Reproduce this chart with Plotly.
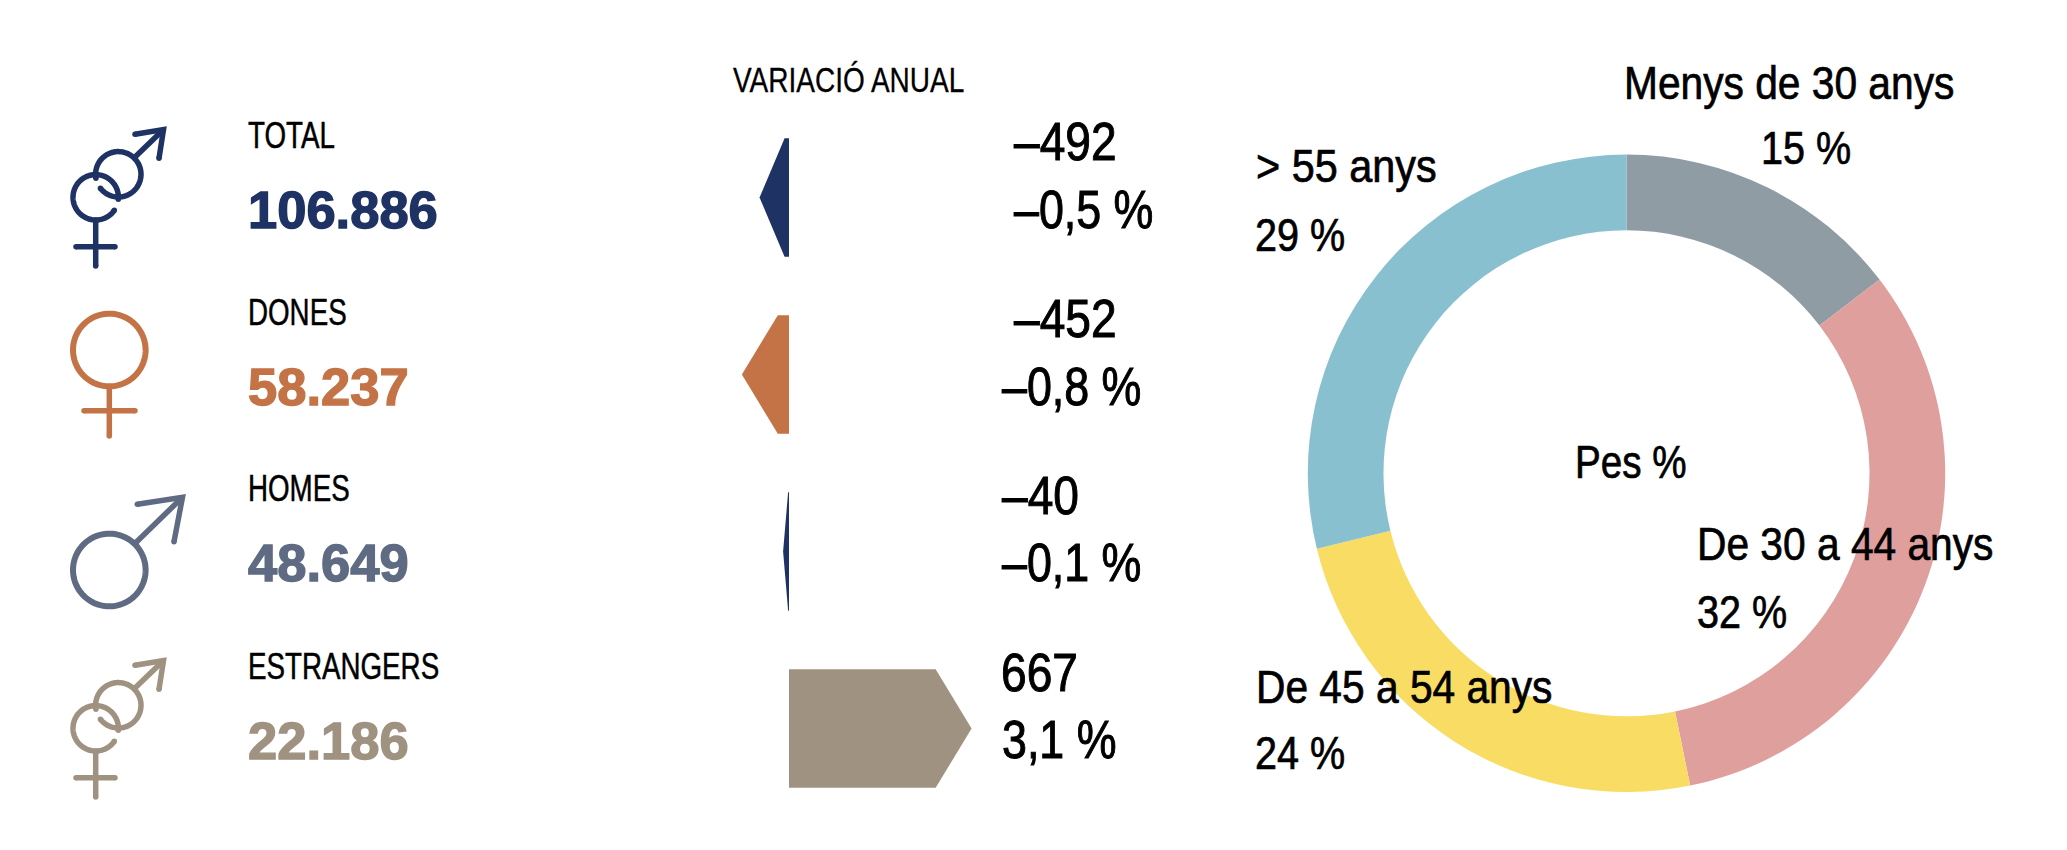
import json

import numpy as np
import plotly.graph_objects as go

WIDTH = 2067
HEIGHT = 850
TEXT_FONT = 'Liberation Sans'

groups = ['TOTAL', 'DONES', 'HOMES', 'ESTRANGERS']
totals = ['106.886', '58.237', '48.649', '22.186']
group_colors = ['#1f3264', '#c47346', '#5f6b82', '#a09280']
arrow_colors = ['#1f3264', '#c47346', '#1f3264', '#a09280']

change_abs = ['–492', '–452', '–40', '667']
change_pct_text = ['–0,5 %', '–0,8 %', '–0,1 %', '3,1 %']
change_pct = [-0.5, -0.8, -0.1, 3.1]

age_groups = ['Menys de 30 anys', 'De 30 a 44 anys', 'De 45 a 54 anys', '> 55 anys']
age_share = [14.6, 32.2, 24.4, 28.8]
age_share_text = ['15 %', '32 %', '24 %', '29 %']
age_colors = ['#8f9ca4', '#df9f9d', '#f8dc63', '#89c0d0']

fig = go.Figure()


def stroke(xs, ys, color, width=5.5, caps=True):
    # plotly has no linecap, so the round ends are separate dots
    fig.add_trace(go.Scatter(
        x=xs, y=ys, mode='lines', line=dict(color=color, width=width, simplify=False),
        hoverinfo='skip', showlegend=False
    ))
    if caps:
        fig.add_trace(go.Scatter(
            x=[xs[0], xs[-1]], y=[ys[0], ys[-1]], mode='markers',
            marker=dict(color=color, size=width, line=dict(width=0)),
            hoverinfo='skip', showlegend=False
        ))


def arc(cx, cy, r, start, end):
    t = np.radians(np.linspace(start, end, 120))
    return (cx + r * np.cos(t)).tolist(), (cy + r * np.sin(t)).tolist()


def male_arrow(x0, y0, x1, y1, bx0, by0, bx1, by1, color):
    stroke([x0, x1], [y0, y1], color)
    stroke([bx0, x1 + 0.5, bx1], [by0, y1 - 0.5, by1], color)


def female_stem(x, y0, y1, cx0, cx1, cy, color):
    stroke([x, x], [y0, y1], color)
    stroke([cx0, cx1], [cy, cy], color)


def both_icon(dy, color):
    xs, ys = arc(95.7, 197.3 + dy, 22.7, 35, 365)
    stroke(xs, ys, color)
    xs, ys = arc(118.3, 174.3 + dy, 22.7, 142, -190)
    stroke(xs, ys, color)
    male_arrow(135, 157 + dy, 163, 130 + dy, 135, 134.3 + dy, 159, 158.3 + dy, color)
    female_stem(95.7, 220 + dy, 266 + dy, 76, 115, 246.7 + dy, color)


both_icon(0, group_colors[0])
both_icon(531, group_colors[3])

xs, ys = arc(109.3, 350, 36.3, 0, 360)
stroke(xs, ys, group_colors[1], 6, caps=False)
female_stem(109.3, 388, 436, 84, 135, 410.7, group_colors[1])

xs, ys = arc(109.3, 570, 36.3, 0, 360)
stroke(xs, ys, group_colors[2], 6, caps=False)
male_arrow(136.7, 541.7, 182, 497.7, 137.3, 504.3, 174, 541.7, group_colors[2])

# variation arrows: value on x2, row on y2
HEAD = 0.61
HALF = 0.335
for row, value in enumerate(change_pct):
    sign = 1 if value > 0 else -1
    head = min(HEAD, 0.85 * abs(value))
    neck = value - sign * head
    fig.add_trace(go.Scatter(
        x=[0, neck, value, neck, 0, 0],
        y=[row - HALF, row - HALF, row, row + HALF, row + HALF, row - HALF],
        xaxis='x2', yaxis='y2', mode='lines', fill='toself',
        fillcolor=arrow_colors[row], line=dict(width=0),
        hoverinfo='skip', showlegend=False
    ))

fig.add_trace(go.Pie(
    labels=age_groups, values=age_share, sort=False, direction='clockwise',
    rotation=0, hole=0.7625, textinfo='none', hoverinfo='skip', showlegend=False,
    marker=dict(colors=age_colors, line=dict(width=0)),
    domain=dict(x=[(1626.5 - 318.7) / WIDTH, (1626.5 + 318.7) / WIDTH],
                y=[1 - (473.3 + 318.7) / HEIGHT, 1 - (473.3 - 318.7) / HEIGHT])
))

squeeze = []
weight = []


def label(x, y, text, size, color='black', bold=False, k=1.0, heavy=0.7):
    squeeze.append(k)
    weight.append(heavy)
    fig.add_annotation(
        x=x, y=y, xref='x', yref='y', text=f'<b>{text}</b>' if bold else text,
        showarrow=False, xanchor='left', yanchor='middle', borderpad=0, borderwidth=0,
        font=dict(family=TEXT_FONT, size=size, color=color)
    )


label(733, 79, 'VARIACIÓ ANUAL', 35, k=0.8, heavy=0.3)

group_y = [135, 312, 488, 666]
total_y = [209, 386, 562, 740]
abs_x = [1014, 1014, 1002, 1001]
abs_y = [141, 318, 495, 672]
pct_x = [1014, 1002, 1002, 1002]
pct_y = [209, 386, 562, 739]
for i in range(4):
    label(248, group_y[i], groups[i], 37, k=0.75, heavy=0.5)
    label(248, total_y[i], totals[i], 52.5, group_colors[i], bold=True, heavy=1.4)
    label(abs_x[i], abs_y[i], change_abs[i], 53, k=0.87, heavy=1)
    label(pct_x[i], pct_y[i], change_pct_text[i], 53, k=0.845, heavy=1)

label(1624, 83, age_groups[0], 46, k=0.885)
label(1761, 148, age_share_text[0], 46, k=0.86)
label(1697, 544, age_groups[1], 46, k=0.885)
label(1697, 612, age_share_text[1], 46, k=0.86)
label(1256, 687, age_groups[2], 46, k=0.885)
label(1255, 753, age_share_text[2], 46, k=0.86)
label(1256, 166, age_groups[3], 46, k=0.9)
label(1255, 235, age_share_text[3], 46, k=0.86)
label(1575, 462, 'Pes %', 46, k=0.84)

fig.update_layout(
    width=WIDTH, height=HEIGHT, margin=dict(l=0, r=0, t=0, b=0),
    plot_bgcolor='white', paper_bgcolor='white',
    xaxis=dict(range=[0, WIDTH], visible=False),
    yaxis=dict(range=[HEIGHT, 0], visible=False),
    xaxis2=dict(range=[-789 / 58.9, (WIDTH - 789) / 58.9], overlaying='x', anchor='y2', visible=False),
    yaxis2=dict(range=[(HEIGHT - 197.5) / 177, -197.5 / 177], overlaying='y', anchor='x2', visible=False)
)

# the original type is condensed and heavier, no such face is installed,
# so squeeze the labels and give them a thin outline
post = """
document.body.style.margin = '0';
var squeeze = %s, weight = %s;
document.querySelectorAll('.annotation-text').forEach(function (t, i) {
    var k = squeeze[i], left = t.getBBox().x;
    t.setAttribute('transform', 'translate(' + left * (1 - k) + ',0) scale(' + k + ',1)');
    t.style.stroke = t.style.fill;
    t.style.strokeWidth = weight[i] + 'px';
});
""" % (json.dumps(squeeze), json.dumps(weight))

fig.write_html('out.html', config=dict(displayModeBar=False), post_script=post)
